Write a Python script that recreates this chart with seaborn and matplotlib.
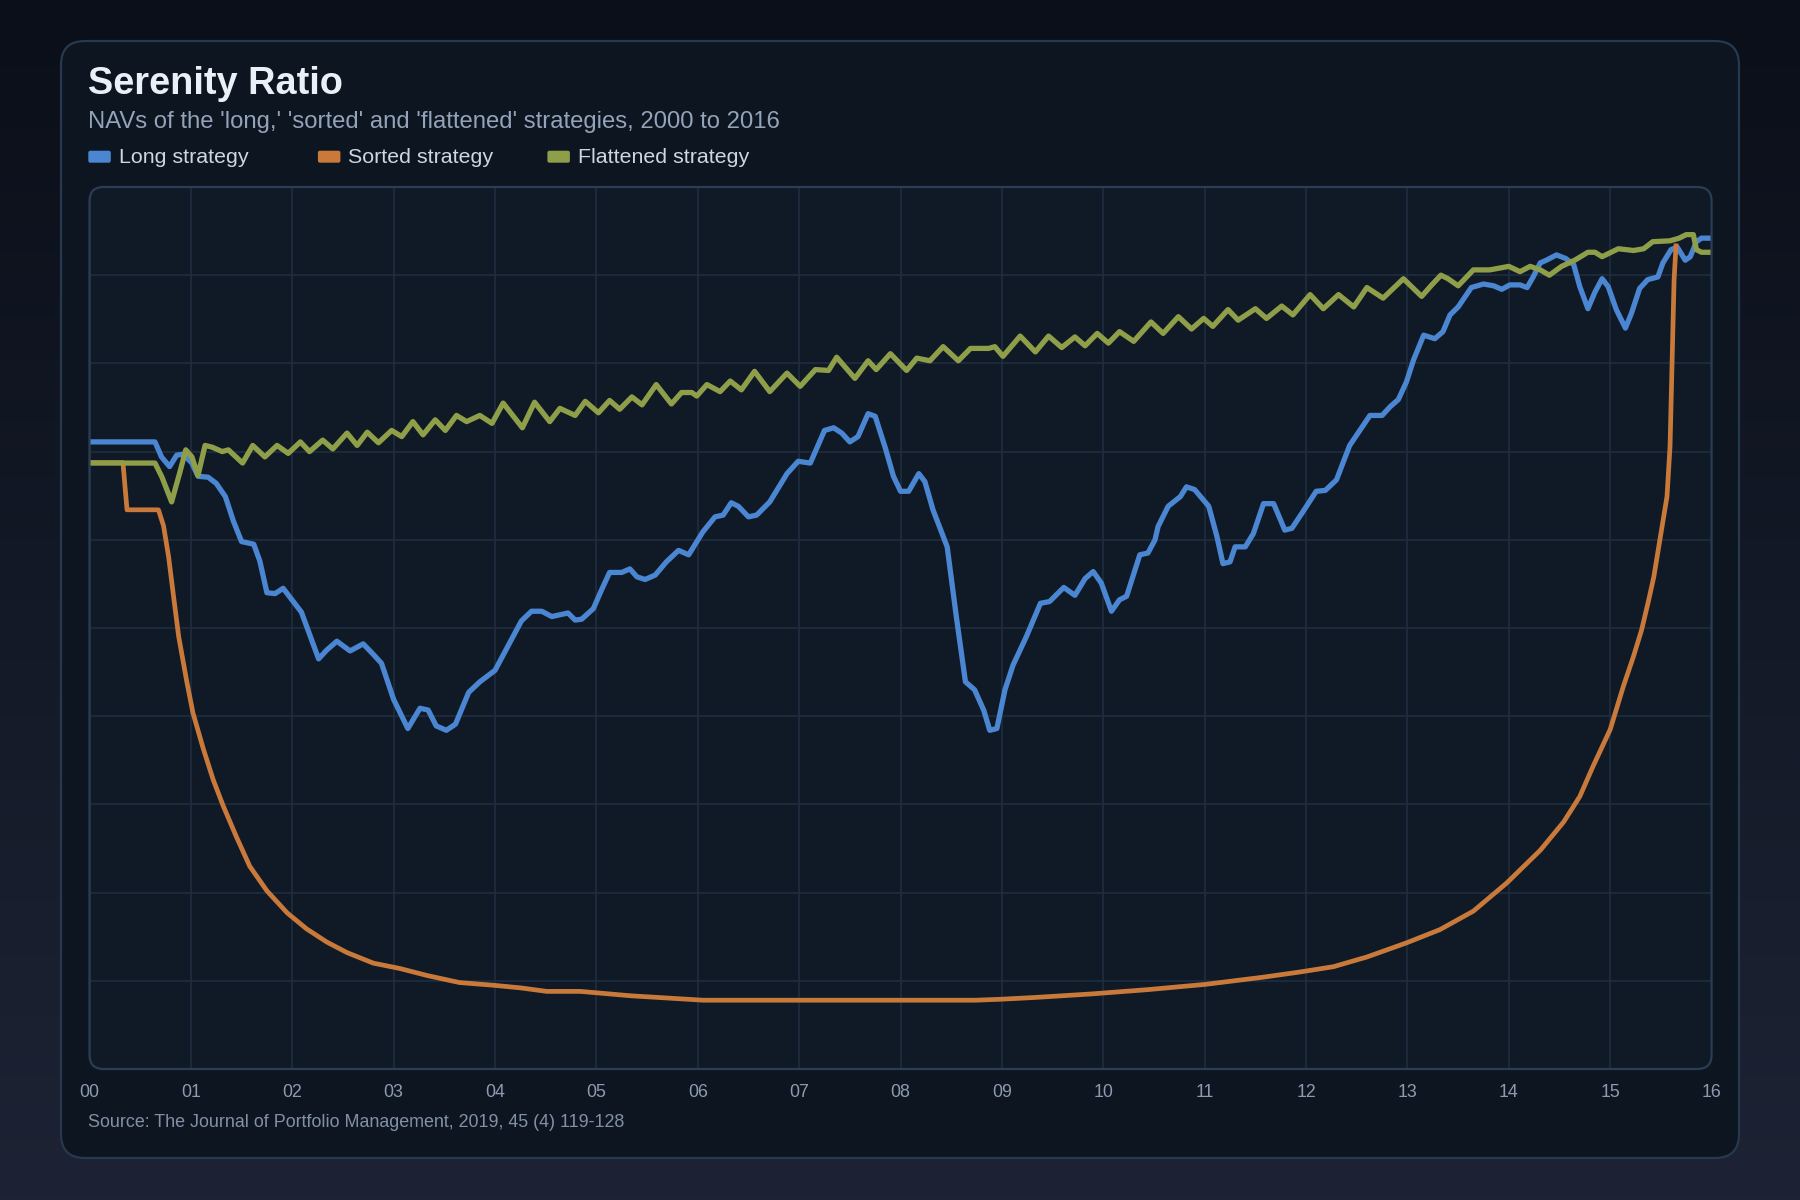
import matplotlib

matplotlib.use("Agg")

import matplotlib.pyplot as plt
import numpy as np
import pandas as pd
import seaborn as sns
from matplotlib.colors import LinearSegmentedColormap
from matplotlib.patches import FancyBboxPatch

# ## Data
# (years since 2000, NAV in chart units)

long_strategy = [
    (0, 7.11), (0.646, 7.11), (0.71, 6.94), (0.79, 6.83), (0.86, 6.96),
    (0.925, 6.97), (1.01, 6.87), (1.07, 6.72), (1.17, 6.71), (1.25, 6.64),
    (1.34, 6.49), (1.42, 6.21), (1.50, 5.98), (1.62, 5.95), (1.68, 5.76),
    (1.75, 5.40), (1.83, 5.39), (1.91, 5.45), (2.01, 5.30), (2.09, 5.18),
    (2.18, 4.90), (2.26, 4.65), (2.34, 4.75), (2.44, 4.85), (2.57, 4.74),
    (2.70, 4.82), (2.80, 4.70), (2.88, 4.60), (3.00, 4.19), (3.14, 3.86),
    (3.26, 4.09), (3.34, 4.07), (3.42, 3.89), (3.52, 3.84), (3.61, 3.91),
    (3.74, 4.27), (3.85, 4.39), (4.00, 4.52), (4.13, 4.80), (4.26, 5.08),
    (4.36, 5.19), (4.46, 5.19), (4.56, 5.13), (4.64, 5.15), (4.72, 5.17),
    (4.79, 5.09), (4.855, 5.10), (4.97, 5.22), (5.05, 5.43), (5.13, 5.63),
    (5.25, 5.63), (5.33, 5.67), (5.40, 5.58), (5.48, 5.55), (5.58, 5.60),
    (5.69, 5.75), (5.81, 5.88), (5.91, 5.83), (6.05, 6.09), (6.17, 6.26),
    (6.25, 6.28), (6.33, 6.42), (6.40, 6.38), (6.50, 6.26), (6.58, 6.28),
    (6.71, 6.43), (6.88, 6.75), (6.99, 6.89), (7.11, 6.87), (7.25, 7.24),
    (7.34, 7.27), (7.42, 7.21), (7.50, 7.11), (7.58, 7.17), (7.68, 7.43),
    (7.75, 7.40), (7.85, 7.04), (7.93, 6.72), (8.00, 6.55), (8.08, 6.55),
    (8.18, 6.75), (8.24, 6.66), (8.32, 6.34), (8.46, 5.92), (8.55, 5.13),
    (8.64, 4.39), (8.73, 4.30), (8.82, 4.07), (8.88, 3.84), (8.95, 3.86),
    (9.03, 4.30), (9.11, 4.58), (9.24, 4.90), (9.38, 5.28), (9.47, 5.30),
    (9.61, 5.46), (9.72, 5.37), (9.82, 5.56), (9.90, 5.64), (9.98, 5.51),
    (10.08, 5.19), (10.16, 5.32), (10.23, 5.36), (10.36, 5.83), (10.44, 5.85),
    (10.51, 6.00), (10.54, 6.15), (10.64, 6.38), (10.76, 6.49), (10.82, 6.60),
    (10.90, 6.57), (11.04, 6.38), (11.12, 6.04), (11.18, 5.73), (11.25, 5.75),
    (11.30, 5.92), (11.40, 5.92), (11.48, 6.07), (11.58, 6.41), (11.68, 6.41),
    (11.79, 6.11), (11.86, 6.13), (11.97, 6.32), (12.10, 6.55), (12.19, 6.56),
    (12.30, 6.68), (12.43, 7.07), (12.53, 7.24), (12.63, 7.41), (12.75, 7.41),
    (12.83, 7.51), (12.91, 7.59), (12.99, 7.79), (13.06, 8.04), (13.16, 8.32),
    (13.27, 8.28), (13.35, 8.36), (13.42, 8.55), (13.50, 8.64), (13.63, 8.86),
    (13.75, 8.90), (13.85, 8.88), (13.93, 8.84), (14.01, 8.89), (14.11, 8.89),
    (14.18, 8.86), (14.24, 8.98), (14.31, 9.14), (14.37, 9.17), (14.47, 9.23),
    (14.56, 9.19), (14.64, 9.12), (14.70, 8.87), (14.78, 8.62), (14.85, 8.81),
    (14.92, 8.96), (14.98, 8.87), (15.06, 8.61), (15.15, 8.40), (15.21, 8.57),
    (15.29, 8.85), (15.37, 8.95), (15.47, 8.98), (15.52, 9.14), (15.60, 9.29),
    (15.66, 9.32), (15.74, 9.17), (15.79, 9.21), (15.85, 9.38), (15.90, 9.42),
    (16.00, 9.42),
]

sorted_strategy = [
    (0, 6.875), (0.33, 6.875), (0.37, 6.34), (0.68, 6.34), (0.73, 6.16),
    (0.78, 5.81), (0.83, 5.35), (0.88, 4.90), (0.96, 4.39), (1.02, 4.04),
    (1.12, 3.64), (1.22, 3.28), (1.32, 2.98), (1.45, 2.63), (1.58, 2.30),
    (1.75, 2.02), (1.95, 1.77), (2.14, 1.59), (2.34, 1.44), (2.54, 1.32),
    (2.80, 1.20), (3.06, 1.14), (3.33, 1.06), (3.65, 0.98), (3.98, 0.95),
    (4.25, 0.92), (4.51, 0.88), (4.84, 0.88), (5.34, 0.83), (5.91, 0.79),
    (6.05, 0.78), (8.74, 0.78), (8.97, 0.79), (9.31, 0.81), (9.87, 0.85),
    (10.44, 0.90), (11.01, 0.96), (11.57, 1.04), (11.94, 1.10), (12.27, 1.16),
    (12.60, 1.27), (12.99, 1.43), (13.32, 1.58), (13.65, 1.79), (13.98, 2.11),
    (14.31, 2.48), (14.54, 2.80), (14.70, 3.09), (14.83, 3.43), (15.00, 3.85),
    (15.13, 4.34), (15.23, 4.68), (15.31, 4.98), (15.38, 5.32), (15.43, 5.58),
    (15.49, 6.00), (15.56, 6.49), (15.59, 7.06), (15.61, 8.00), (15.63, 8.95),
    (15.65, 9.36),
]

flattened_strategy = [
    (0, 6.87), (0.646, 6.87), (0.715, 6.71), (0.81, 6.43), (0.89, 6.76),
    (0.95, 7.02), (1.01, 6.94), (1.07, 6.73), (1.14, 7.07), (1.21, 7.05),
    (1.31, 7.00), (1.37, 7.02), (1.51, 6.87), (1.61, 7.07), (1.73, 6.94),
    (1.85, 7.07), (1.96, 6.98), (2.08, 7.11), (2.17, 7.00), (2.30, 7.13),
    (2.40, 7.03), (2.54, 7.21), (2.64, 7.07), (2.74, 7.22), (2.85, 7.10),
    (2.98, 7.24), (3.08, 7.17), (3.19, 7.34), (3.29, 7.19), (3.41, 7.36),
    (3.51, 7.24), (3.62, 7.41), (3.72, 7.34), (3.85, 7.41), (3.97, 7.32),
    (4.08, 7.55), (4.27, 7.27), (4.39, 7.56), (4.54, 7.34), (4.64, 7.49),
    (4.79, 7.41), (4.89, 7.57), (5.02, 7.44), (5.13, 7.58), (5.23, 7.48),
    (5.35, 7.62), (5.45, 7.53), (5.59, 7.76), (5.74, 7.54), (5.84, 7.67),
    (5.94, 7.67), (5.99, 7.63), (6.09, 7.76), (6.22, 7.68), (6.32, 7.80),
    (6.43, 7.70), (6.56, 7.91), (6.71, 7.68), (6.88, 7.89), (7.01, 7.74),
    (7.16, 7.93), (7.29, 7.92), (7.37, 8.07), (7.55, 7.83), (7.68, 8.03),
    (7.76, 7.93), (7.90, 8.11), (8.06, 7.92), (8.16, 8.06), (8.29, 8.03),
    (8.42, 8.19), (8.57, 8.03), (8.69, 8.17), (8.87, 8.17), (8.93, 8.19),
    (9.01, 8.08), (9.18, 8.31), (9.33, 8.13), (9.46, 8.31), (9.59, 8.18),
    (9.72, 8.30), (9.82, 8.20), (9.94, 8.34), (10.05, 8.23), (10.16, 8.36),
    (10.30, 8.25), (10.47, 8.47), (10.59, 8.34), (10.74, 8.53), (10.87, 8.39),
    (10.99, 8.51), (11.08, 8.42), (11.23, 8.61), (11.33, 8.49), (11.50, 8.62),
    (11.61, 8.51), (11.76, 8.65), (11.87, 8.55), (12.04, 8.78), (12.17, 8.62),
    (12.32, 8.78), (12.47, 8.64), (12.60, 8.86), (12.76, 8.74), (12.96, 8.96),
    (13.14, 8.76), (13.24, 8.89), (13.33, 9.00), (13.40, 8.96), (13.50, 8.88),
    (13.65, 9.06), (13.81, 9.06), (14.00, 9.10), (14.11, 9.04), (14.21, 9.10),
    (14.31, 9.06), (14.40, 9.00), (14.52, 9.10), (14.65, 9.17), (14.78, 9.26),
    (14.85, 9.26), (14.92, 9.21), (15.08, 9.30), (15.23, 9.28), (15.33, 9.30),
    (15.42, 9.38), (15.59, 9.39), (15.68, 9.42), (15.75, 9.46), (15.82, 9.46),
    (15.85, 9.29), (15.90, 9.26), (16.00, 9.26),
]

series_names = ["Long strategy", "Sorted strategy", "Flattened strategy"]
series_colors = ["#4a86d1", "#c97a3b", "#8f9e48"]
series_widths = [3.8, 3.4, 3.8]
year_ticks = list(range(17))
year_labels = [f"{y:02d}" for y in year_ticks]

title = "Serenity Ratio"
subtitle = "NAVs of the 'long,' 'sorted' and 'flattened' strategies, 2000 to 2016"
source = "Source: The Journal of Portfolio Management, 2019, 45 (4) 119-128"

# long-form table for seaborn
frames = []
for name, pts in zip(
    series_names, [long_strategy, sorted_strategy, flattened_strategy]
):
    df = pd.DataFrame(pts, columns=["year", "nav"])
    df["strategy"] = name
    frames.append(df)
data = pd.concat(frames, ignore_index=True)

# ## Figure

sns.set_theme(style="dark")
plt.rcParams["font.family"] = ["Liberation Sans", "DejaVu Sans"]

W, H = 1800, 1200
fig = plt.figure(figsize=(18, 12), dpi=100)

# background axes in pixel coords (y down)
bg = fig.add_axes([0, 0, 1, 1])
bg.set_xlim(0, W)
bg.set_ylim(H, 0)
bg.axis("off")

grad = np.linspace(0, 1, 256).reshape(-1, 1)
cmap = LinearSegmentedColormap.from_list("bg", ["#0a0f19", "#1d2334"])
bg.imshow(grad, extent=[0, W, H, 0], aspect="auto", cmap=cmap, zorder=0)

# card
bg.add_patch(
    FancyBboxPatch(
        (61, 41), 1678, 1117,
        boxstyle="round,pad=0,rounding_size=24",
        fc="#0d1520", ec="#26394e", lw=1.6, zorder=1,
    )
)

# plot area
px0, py0, px1, py1 = 89.5, 187, 1711.6, 1069
plot_bg = FancyBboxPatch(
    (px0, py0), px1 - px0, py1 - py0,
    boxstyle="round,pad=0,rounding_size=14",
    fc="#101926", ec="none", zorder=2,
)
bg.add_patch(plot_bg)

# header text
bg.text(88, 94, title, fontsize=27.3, fontweight="bold", color="#eaf0f8",
        va="baseline", ha="left", zorder=3)
bg.text(88, 128.3, subtitle, fontsize=17.2, color="#93a3ba",
        va="baseline", ha="left", zorder=3)

# legend
legend_x = [88.3, 317.9, 547.4]
for lx, name, col in zip(legend_x, series_names, series_colors):
    bg.add_patch(
        FancyBboxPatch(
            (lx, 150.7), 22.5, 12,
            boxstyle="round,pad=0,rounding_size=2",
            fc=col, ec="none", zorder=3,
        )
    )
    bg.text(lx + 30.6, 163.3, name, fontsize=15.4, color="#cdd7e4",
            va="baseline", ha="left", zorder=3)

# source
bg.text(88, 1127.3, source, fontsize=12.9, color="#8290a6",
        va="baseline", ha="left", zorder=3)

# main axes
ax = fig.add_axes(
    [px0 / W, 1 - py1 / H, (px1 - px0) / W, (py1 - py0) / H]
)
ax.patch.set_alpha(0)

for name, col, lw in zip(series_names, series_colors, series_widths):
    sns.lineplot(
        data=data[data["strategy"] == name],
        x="year", y="nav",
        color=col, linewidth=lw,
        estimator=None, sort=False,
        solid_joinstyle="round", solid_capstyle="butt",
        ax=ax, legend=False,
    )

ax.set_xlim(0, 16)
ax.set_ylim(0, 10)
ax.set_xticks(year_ticks)
ax.set_xticklabels(year_labels)
ax.set_yticks(range(11))
ax.set_yticklabels([])
ax.set_xlabel("")
ax.set_ylabel("")
ax.grid(True, color="#1f2e42", linewidth=1.1)
for gl in ax.get_xgridlines() + ax.get_ygridlines():
    gl.set_clip_path(plot_bg)
    gl.set_zorder(0.5)
ax.tick_params(axis="x", length=0, pad=10.5, labelsize=12.8, labelcolor="#8d9bb1")
ax.tick_params(axis="y", length=0)
for s in ax.spines.values():
    s.set_visible(False)

# plot-area border on top of the grid
border = FancyBboxPatch(
    (px0, py0), px1 - px0, py1 - py0,
    boxstyle="round,pad=0,rounding_size=14",
    fc="none", ec="#2a3d55", lw=1.6, transform=bg.transData,
    clip_on=False, zorder=5,
)
ax.add_artist(border)

fig.savefig("out.png", dpi=100, facecolor="#0a0f19")
